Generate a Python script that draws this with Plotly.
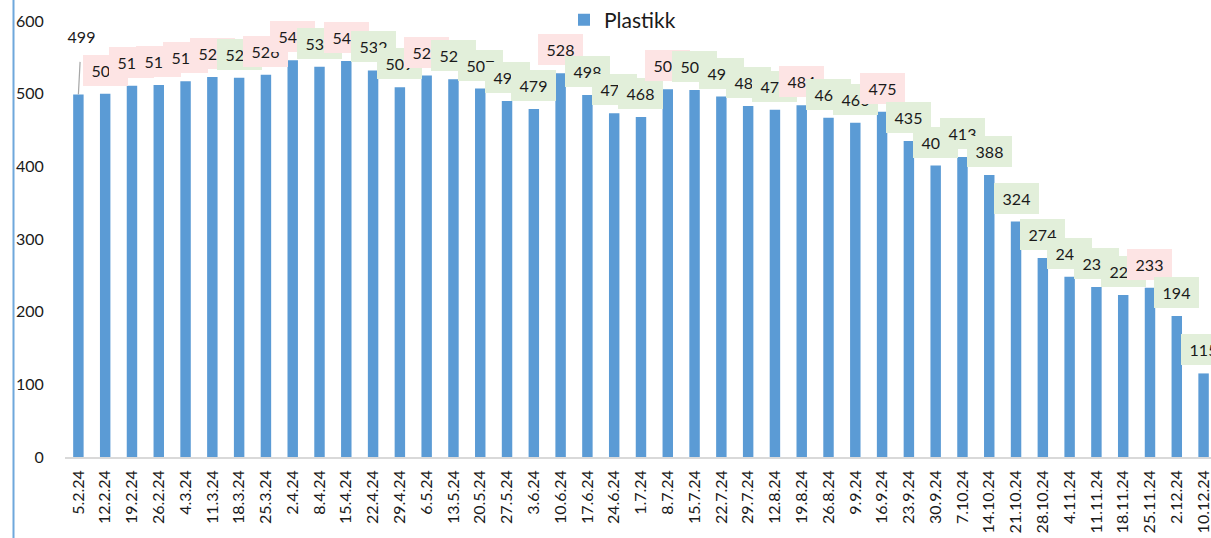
import plotly.graph_objects as go

categories = ["5.2.24", "12.2.24", "19.2.24", "26.2.24", "4.3.24", "11.3.24", "18.3.24", "25.3.24",
              "2.4.24", "8.4.24", "15.4.24", "22.4.24", "29.4.24", "6.5.24", "13.5.24", "20.5.24",
              "27.5.24", "3.6.24", "10.6.24", "17.6.24", "24.6.24", "1.7.24", "8.7.24", "15.7.24",
              "22.7.24", "29.7.24", "12.8.24", "19.8.24", "26.8.24", "9.9.24", "16.9.24", "23.9.24",
              "30.9.24", "7.10.24", "14.10.24", "21.10.24", "28.10.24", "4.11.24", "11.11.24",
              "18.11.24", "25.11.24", "2.12.24", "10.12.24"]

plastikk = [499, 500, 511, 512, 517, 523, 522, 526, 546, 537, 545, 532, 509, 525, 520, 507,
            490, 479, 528, 498, 473, 468, 506, 505, 496, 483, 478, 484, 467, 460, 475, 435,
            401, 413, 388, 324, 274, 248, 234, 223, 233, 194, 115]

# label highlight: "up" = pink, "down" = green, "none" = no box
label_kind = ["none", "up", "up", "up", "up", "up", "down", "up", "up", "down", "up", "down",
              "down", "up", "down", "down", "down", "down", "up", "down", "down", "down", "up",
              "down", "down", "down", "down", "up", "down", "down", "up", "down", "down", "down",
              "down", "down", "down", "down", "down", "down", "up", "down", "down"]

y_ticks = [0, 100, 200, 300, 400, 500, 600]

BAR_COLOR = "#5B9BD5"
PINK = "#FDE4E4"
GREEN = "#E2EFDA"
TEXT = "#1a1a1a"
FONT = "Lato"

fig = go.Figure()
fig.add_trace(go.Bar(
    x=categories, y=plastikk, name="Plastikk",
    marker=dict(color=BAR_COLOR, line=dict(width=0)),
    showlegend=True,
))

annotations = []
for i, (c, v, k) in enumerate(zip(categories, plastikk, label_kind)):
    if k == "none":
        annotations.append(dict(
            x=c, y=v, xref="x", yref="y", text=str(v),
            showarrow=True, arrowhead=0, arrowwidth=1.2, arrowcolor="#a6a6a6",
            ax=3, ay=-58, width=45, height=50, borderpad=0,
            font=dict(family=FONT, size=16, color=TEXT),
        ))
    else:
        annotations.append(dict(
            x=c, y=v, xref="x", yref="y", text=str(v),
            showarrow=False, yanchor="bottom", yshift=8,
            width=45, height=31, borderpad=0, borderwidth=0,
            bgcolor=PINK if k == "up" else GREEN,
            font=dict(family=FONT, size=16, color=TEXT),
        ))

W, H = 1211, 538
ml, mr, mt, mb = 65, 0, 21, 81
plot_w = W - ml - mr
cat_w = 26.79
x_end = -0.5 + plot_w / cat_w

fig.update_layout(
    width=W, height=H,
    margin=dict(l=ml, r=mr, t=mt, b=mb, autoexpand=False),
    plot_bgcolor="white", paper_bgcolor="white",
    bargap=0.61,
    font=dict(family=FONT, color=TEXT),
    annotations=annotations,
    legend=dict(
        orientation="h", xref="container", yref="container",
        x=564 / W, xanchor="left", y=1 - 20 / H, yanchor="middle",
        font=dict(family=FONT, size=21, color=TEXT),
        bgcolor="rgba(0,0,0,0)",
    ),
    shapes=[dict(
        type="line", xref="paper", yref="paper",
        x0=(13.5 - ml) / plot_w, x1=(13.5 - ml) / plot_w,
        y0=-0.3, y1=1.2,
        line=dict(color="#6FA8DC", width=2),
    )],
)

fig.update_xaxes(
    type="category", range=[-0.5, x_end],
    showline=True, linecolor="#D9D9D9", linewidth=1.5,
    showgrid=False, zeroline=False,
    ticks="outside", ticklen=5, tickcolor="rgba(0,0,0,0)",
    tickangle=-90, tickfont=dict(family=FONT, size=16, color=TEXT),
    automargin=False,
)
fig.update_yaxes(
    range=[0, 600], tickvals=y_ticks,
    showline=False, showgrid=False, zeroline=False,
    ticks="outside", ticklen=17, tickcolor="rgba(0,0,0,0)",
    tickfont=dict(family=FONT, size=16, color=TEXT),
    automargin=False,
)

fig.write_html(
    "out.html",
    config={"displayModeBar": False},
    post_script="document.body.style.margin='0';document.body.style.overflow='hidden';",
)
